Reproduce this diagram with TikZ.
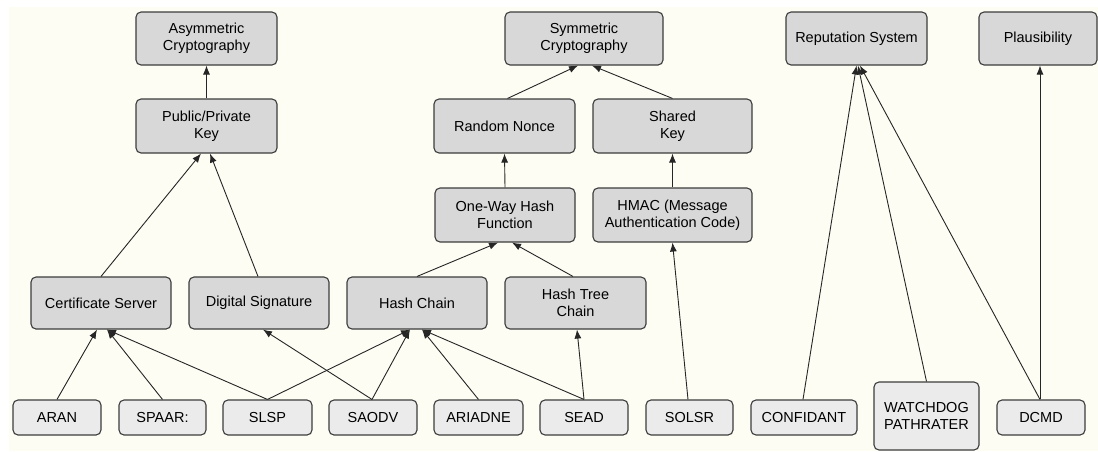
\documentclass[tikz,border=0pt]{standalone}
\usepackage{fontspec}
\setmainfont{Liberation Sans}
\usetikzlibrary{arrows.meta}
\definecolor{bg}{RGB}{253,253,244}
\definecolor{upfill}{RGB}{216,216,216}
\definecolor{lowfill}{RGB}{235,235,235}
\definecolor{boxline}{RGB}{60,60,60}
\begin{document}
\begin{tikzpicture}[x=1pt,y=-1pt,
 box/.style={draw=boxline, line width=1.1pt, rounded corners=5pt, align=center, inner sep=0pt, font=\fontsize{14.5}{17}\selectfont, text=black},
 upper/.style={box, fill=upfill},
 lower/.style={box, fill=lowfill, minimum height=35pt},
 arr/.style={-{Latex[length=9pt,width=7pt]}, line width=0.9pt, draw=black!85}]
\fill[white] (0,0) rectangle (1098,451);
\fill[bg] (9,7) rectangle (1098,451);
\useasboundingbox (0,0) rectangle (1098,451);

% top row
\node[upper, minimum width=141pt, minimum height=53pt] (asym) at (206.5,38.5) {Asymmetric\\Cryptography};
\node[upper, minimum width=158pt, minimum height=53pt] (sym) at (584,38.5) {Symmetric\\Cryptography};
\node[upper, minimum width=141pt, minimum height=53pt] (rep) at (856.5,38.5) {Reputation System};
\node[upper, minimum width=118pt, minimum height=53pt] (plaus) at (1038,38.5) {Plausibility};

% second row
\node[upper, minimum width=141pt, minimum height=54pt] (ppk) at (206.5,126) {Public/Private\\Key};
\node[upper, minimum width=141pt, minimum height=54pt] (nonce) at (504.5,126) {Random Nonce};
\node[upper, minimum width=159pt, minimum height=54pt] (skey) at (672.5,126) {Shared\\Key};

% third row
\node[upper, minimum width=140pt, minimum height=54pt] (owh) at (505,215) {One-Way Hash\\Function};
\node[upper, minimum width=159pt, minimum height=54pt] (hmac) at (672.5,215) {HMAC (Message\\Authentication Code)};

% fourth row
\node[upper, minimum width=140pt, minimum height=52pt] (cert) at (101,303) {Certificate Server};
\node[upper, minimum width=140pt, minimum height=52pt] (dsig) at (259,303) {Digital Signature};
\node[upper, minimum width=140pt, minimum height=52pt] (hchain) at (417,303) {Hash Chain};
\node[upper, minimum width=141pt, minimum height=52pt] (htree) at (575.5,303) {Hash Tree\\Chain};

% bottom row
\node[lower, minimum width=88pt] (aran) at (57,417.5) {ARAN};
\node[lower, minimum width=87pt] (spaar) at (162.5,417.5) {SPAAR:};
\node[lower, minimum width=89pt] (slsp) at (267.5,417.5) {SLSP};
\node[lower, minimum width=88pt] (saodv) at (373,417.5) {SAODV};
\node[lower, minimum width=89pt] (ariadne) at (478.5,417.5) {ARIADNE};
\node[lower, minimum width=88pt] (sead) at (584,417.5) {SEAD};
\node[lower, minimum width=87pt] (solsr) at (689.5,417.5) {SOLSR};
\node[lower, minimum width=106pt] (confidant) at (804,417.5) {CONFIDANT};
\node[lower, minimum width=105pt, minimum height=68pt] (watchdog) at (926.5,416) {WATCHDOG\\PATHRATER};
\node[lower, minimum width=88pt] (dcmd) at (1041,417.5) {DCMD};

% connectors
\draw[arr] (ppk.north) -- (asym.south);
\draw[arr] (cert.north) -- ([xshift=-5.5pt]ppk.south);
\draw[arr] ([xshift=-1pt]dsig.north) -- ([xshift=3.5pt]ppk.south);

\draw[arr] ([xshift=3pt]nonce.north) -- ([xshift=-6pt]sym.south);
\draw[arr] (skey.north) -- ([xshift=8pt]sym.south);
\draw[arr] (owh.north) -- (nonce.south);
\draw[arr] (hmac.north) -- (skey.south);
\draw[arr] (hchain.north) -- ([xshift=-7pt]owh.south);
\draw[arr] ([xshift=-2.5pt]htree.north) -- ([xshift=7pt]owh.south);

\draw[arr] (aran.north) -- ([xshift=-4pt]cert.south);
\draw[arr] (spaar.north) -- ([xshift=6pt]cert.south);
\draw[arr] (slsp.north) -- ([xshift=6pt]cert.south);
\draw[arr] (slsp.north) -- ([xshift=-7pt]hchain.south);
\draw[arr] ([xshift=-1pt]saodv.north) -- ([xshift=4pt]dsig.south);
\draw[arr] ([xshift=-1pt]saodv.north) -- ([xshift=-7pt]hchain.south);
\draw[arr] (ariadne.north) -- ([xshift=5pt]hchain.south);
\draw[arr] (sead.north) -- ([xshift=5pt]hchain.south);
\draw[arr] (sead.north) -- ([xshift=1.5pt]htree.south);
\draw[arr] ([xshift=-1.5pt]solsr.north) -- (hmac.south);

\draw[arr] ([xshift=-1pt]confidant.north) -- (rep.south);
\draw[arr] (watchdog.north) -- ([xshift=1.5pt]rep.south);
\draw[arr] ([xshift=-1pt]dcmd.north) -- ([xshift=3.5pt]rep.south);
\draw[arr] ([xshift=-1pt]dcmd.north) -- ([xshift=-1pt]dcmd.north |- plaus.south);
\end{tikzpicture}
\end{document}
